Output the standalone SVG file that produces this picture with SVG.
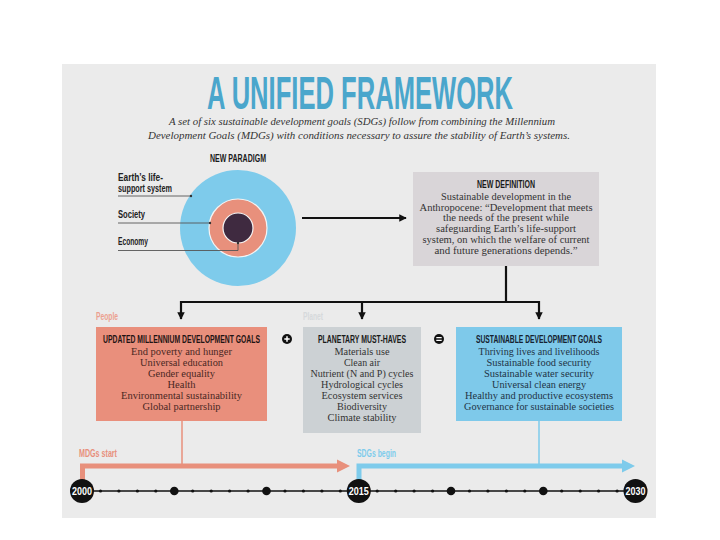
<svg xmlns="http://www.w3.org/2000/svg" width="720" height="540" viewBox="0 0 720 540">
<style>
.cond{font-family:"Liberation Sans",Arial,sans-serif;font-weight:bold}
.body{font-family:"Liberation Serif","Times New Roman",serif;font-size:10.5px}
.sub{font-family:"Liberation Serif","Times New Roman",serif;font-style:italic;font-size:11px;fill:#333}
.conn{stroke:#111;stroke-width:2.2;fill:none}
.lbl{stroke:#555;stroke-width:0.9;fill:none}
.dot{fill:#111}
.year{font-family:"Liberation Sans",Arial,sans-serif;font-weight:bold;font-size:11px;fill:#fff}
</style>
<defs>
<marker id="ah" viewBox="0 0 10 10" refX="9" refY="5" markerWidth="3.4" markerHeight="3.4" orient="auto" markerUnits="strokeWidth">
<path d="M0,0 L10,5 L0,10 z" fill="#111"/>
</marker>
</defs>
<rect width="720" height="540" fill="#ffffff"/>
<rect x="62" y="64" width="594" height="454" fill="#ebebeb"/>

<g id="title">
<text class="cond" x="360" y="109" font-size="47" fill="#4aa6cc" text-anchor="middle" textLength="306" lengthAdjust="spacingAndGlyphs">A UNIFIED FRAMEWORK</text>
<text class="sub" x="362" y="125" text-anchor="middle" textLength="386" lengthAdjust="spacingAndGlyphs">A set of six sustainable development goals (SDGs) follow from combining the Millennium</text>
<text class="sub" x="359" y="139" text-anchor="middle" textLength="422" lengthAdjust="spacingAndGlyphs">Development Goals (MDGs) with conditions necessary to assure the stability of Earth’s systems.</text>
</g>

<g id="paradigm">
<text class="cond" x="238" y="162" font-size="10" fill="#1a1a1a" text-anchor="middle" textLength="56" lengthAdjust="spacingAndGlyphs">NEW PARADIGM</text>
<circle cx="238" cy="228" r="58" fill="#7ecbeb"/>
<circle cx="238" cy="228" r="29" fill="#e8907c" stroke="#f4f4f4" stroke-width="1.2"/>
<circle cx="238" cy="228" r="15" fill="#3f2a40" stroke="#f4f4f4" stroke-width="1.2"/>
<text class="cond" x="118" y="181" font-size="10" fill="#222" textLength="45" lengthAdjust="spacingAndGlyphs">Earth’s life-</text>
<text class="cond" x="118" y="192" font-size="10" fill="#222" textLength="54" lengthAdjust="spacingAndGlyphs">support system</text>
<text class="cond" x="118" y="218" font-size="10" fill="#222" textLength="27" lengthAdjust="spacingAndGlyphs">Society</text>
<text class="cond" x="118" y="245" font-size="10" fill="#222" textLength="30" lengthAdjust="spacingAndGlyphs">Economy</text>
<path class="lbl" d="M118,196 H191"/>
<circle cx="191" cy="196" r="1.2" fill="#333"/>
<path class="lbl" d="M118,223 H210"/>
<circle cx="210" cy="223" r="1.2" fill="#333"/>
<path class="lbl" d="M118,250.5 H238 V243"/>
<circle cx="238" cy="243" r="1.2" fill="#333"/>
</g>

<g id="definition">
<rect x="413" y="172" width="186" height="94" fill="#d9d5d8"/>
<text class="cond" x="506" y="188" font-size="10" fill="#1a1a1a" text-anchor="middle" textLength="58" lengthAdjust="spacingAndGlyphs">NEW DEFINITION</text>
<g class="body" fill="#333" text-anchor="middle">
<text x="506" y="200" textLength="130" lengthAdjust="spacingAndGlyphs">Sustainable development in the</text>
<text x="506" y="210.5" textLength="173" lengthAdjust="spacingAndGlyphs">Anthropocene: “Development that meets</text>
<text x="506" y="221" textLength="126" lengthAdjust="spacingAndGlyphs">the needs of the present while</text>
<text x="506" y="232" textLength="140" lengthAdjust="spacingAndGlyphs">safeguarding Earth’s life-support</text>
<text x="506" y="243" textLength="167" lengthAdjust="spacingAndGlyphs">system, on which the welfare of current</text>
<text x="506" y="254" textLength="143" lengthAdjust="spacingAndGlyphs">and future generations depends.”</text>
</g>
</g>

<g id="mdg">
<text class="cond" x="96" y="320" font-size="10" fill="#eba08f" textLength="22" lengthAdjust="spacingAndGlyphs">People</text>
<rect x="96" y="327" width="171" height="94" fill="#e98f7c"/>
<text class="cond" x="181.5" y="343" font-size="10" fill="#1f1414" text-anchor="middle" textLength="157" lengthAdjust="spacingAndGlyphs">UPDATED MILLENNIUM DEVELOPMENT GOALS</text>
<g class="body" fill="#4a2723" text-anchor="middle">
<text x="181.5" y="355" textLength="101" lengthAdjust="spacingAndGlyphs">End poverty and hunger</text>
<text x="181.5" y="366" textLength="83" lengthAdjust="spacingAndGlyphs">Universal education</text>
<text x="181.5" y="377" textLength="67" lengthAdjust="spacingAndGlyphs">Gender equality</text>
<text x="181.5" y="388" textLength="28" lengthAdjust="spacingAndGlyphs">Health</text>
<text x="181.5" y="399" textLength="121" lengthAdjust="spacingAndGlyphs">Environmental sustainability</text>
<text x="181.5" y="409.5" font-size="9.5" textLength="78" lengthAdjust="spacingAndGlyphs">Global partnership</text>
</g>
</g>

<g id="plus">
<circle cx="287" cy="339" r="5" fill="#111"/>
<path d="M284.3,339 H289.7 M287,336.3 V341.7" stroke="#fff" stroke-width="1.5"/>
</g>

<g id="planetary">
<text class="cond" x="303" y="320" font-size="10" fill="#d6d9db" textLength="20" lengthAdjust="spacingAndGlyphs">Planet</text>
<rect x="303" y="327" width="118" height="106" fill="#ccd1d4"/>
<text class="cond" x="362" y="343" font-size="10" fill="#1a1a1a" text-anchor="middle" textLength="88" lengthAdjust="spacingAndGlyphs">PLANETARY MUST-HAVES</text>
<g class="body" fill="#333" text-anchor="middle">
<text x="362" y="355" textLength="55" lengthAdjust="spacingAndGlyphs">Materials use</text>
<text x="362" y="366" textLength="36" lengthAdjust="spacingAndGlyphs">Clean air</text>
<text x="362" y="377" textLength="103" lengthAdjust="spacingAndGlyphs">Nutrient (N and P) cycles</text>
<text x="362" y="388" textLength="82" lengthAdjust="spacingAndGlyphs">Hydrological cycles</text>
<text x="362" y="399" textLength="81" lengthAdjust="spacingAndGlyphs">Ecosystem services</text>
<text x="362" y="409.5" font-size="9.5" textLength="50" lengthAdjust="spacingAndGlyphs">Biodiversity</text>
<text x="362" y="420.5" textLength="69" lengthAdjust="spacingAndGlyphs">Climate stability</text>
</g>
</g>

<g id="equals">
<circle cx="439" cy="339" r="5" fill="#111"/>
<path d="M436.3,337.6 H441.7 M436.3,340.4 H441.7" stroke="#fff" stroke-width="1.2"/>
</g>

<g id="sdg">
<rect x="456" y="327" width="166" height="94" fill="#7ec9ea"/>
<text class="cond" x="539" y="343" font-size="10" fill="#152230" text-anchor="middle" textLength="126" lengthAdjust="spacingAndGlyphs">SUSTAINABLE DEVELOPMENT GOALS</text>
<g class="body" fill="#1f3446" text-anchor="middle">
<text x="539" y="355" textLength="121" lengthAdjust="spacingAndGlyphs">Thriving lives and livelihoods</text>
<text x="539" y="366" textLength="105" lengthAdjust="spacingAndGlyphs">Sustainable food security</text>
<text x="539" y="377" textLength="110" lengthAdjust="spacingAndGlyphs">Sustainable water security</text>
<text x="539" y="388" textLength="94" lengthAdjust="spacingAndGlyphs">Universal clean energy</text>
<text x="539" y="399" textLength="148" lengthAdjust="spacingAndGlyphs">Healthy and productive ecosystems</text>
<text x="539" y="409.5" font-size="9.5" textLength="150" lengthAdjust="spacingAndGlyphs">Governance for sustainable societies</text>
</g>
</g>

<g id="connectors">
<path class="conn" d="M302,218 H406" marker-end="url(#ah)"/>
<path class="conn" d="M506,266 V302"/>
<path class="conn" d="M181,302 H539"/>
<path class="conn" d="M181,301 V319" marker-end="url(#ah)"/>
<path class="conn" d="M362,301 V319" marker-end="url(#ah)"/>
<path class="conn" d="M539,301 V319" marker-end="url(#ah)"/>
<path d="M182,421 V466" stroke="#e8907c" stroke-width="1.5" fill="none"/>
<path d="M539,421 V466" stroke="#7ecbeb" stroke-width="1.5" fill="none"/>
<path d="M82.5,480 V466 H338" stroke="#e8907c" stroke-width="5" fill="none"/>
<path d="M337,459.5 L350,466 L337,472.5 z" fill="#e8907c"/>
<path d="M359,480 V466 H623" stroke="#7ecbeb" stroke-width="5" fill="none"/>
<path d="M622,459.5 L635,466 L622,472.5 z" fill="#7ecbeb"/>
</g>

<g id="labels-timeline">
<text class="cond" x="79" y="457" font-size="10" fill="#e8907c" textLength="38" lengthAdjust="spacingAndGlyphs">MDGs start</text>
<text class="cond" x="357" y="457" font-size="10" fill="#7ecbeb" textLength="39" lengthAdjust="spacingAndGlyphs">SDGs begin</text>
</g>

<g id="timeline">
<path d="M82,491 H636" stroke="#111" stroke-width="1.4"/>
<g class="dot">
<circle cx="100.5" cy="491" r="1.6"/><circle cx="118.9" cy="491" r="1.6"/><circle cx="137.4" cy="491" r="1.6"/><circle cx="155.8" cy="491" r="1.6"/>
<circle cx="174.3" cy="491" r="4.3"/>
<circle cx="192.7" cy="491" r="1.6"/><circle cx="211.2" cy="491" r="1.6"/><circle cx="229.6" cy="491" r="1.6"/><circle cx="248.1" cy="491" r="1.6"/>
<circle cx="266.5" cy="491" r="4.3"/>
<circle cx="285" cy="491" r="1.6"/><circle cx="303.4" cy="491" r="1.6"/><circle cx="321.9" cy="491" r="1.6"/><circle cx="340.3" cy="491" r="1.6"/>
<circle cx="377.2" cy="491" r="1.6"/><circle cx="395.7" cy="491" r="1.6"/><circle cx="414.1" cy="491" r="1.6"/><circle cx="432.6" cy="491" r="1.6"/>
<circle cx="451" cy="491" r="4.3"/>
<circle cx="469.5" cy="491" r="1.6"/><circle cx="487.9" cy="491" r="1.6"/><circle cx="506.4" cy="491" r="1.6"/><circle cx="524.8" cy="491" r="1.6"/>
<circle cx="543.3" cy="491" r="4.3"/>
<circle cx="561.7" cy="491" r="1.6"/><circle cx="580.2" cy="491" r="1.6"/><circle cx="598.6" cy="491" r="1.6"/><circle cx="617.1" cy="491" r="1.6"/>
</g>
<g id="y2000"><circle cx="82" cy="491" r="12" fill="#111"/><text class="year" x="82" y="495" text-anchor="middle" textLength="20" lengthAdjust="spacingAndGlyphs">2000</text></g>
<g id="y2015"><circle cx="358.8" cy="491" r="12" fill="#111"/><text class="year" x="358.8" y="495" text-anchor="middle" textLength="20" lengthAdjust="spacingAndGlyphs">2015</text></g>
<g id="y2030"><circle cx="635.5" cy="491" r="12" fill="#111"/><text class="year" x="635.5" y="495" text-anchor="middle" textLength="20" lengthAdjust="spacingAndGlyphs">2030</text></g>
</g>
</svg>
